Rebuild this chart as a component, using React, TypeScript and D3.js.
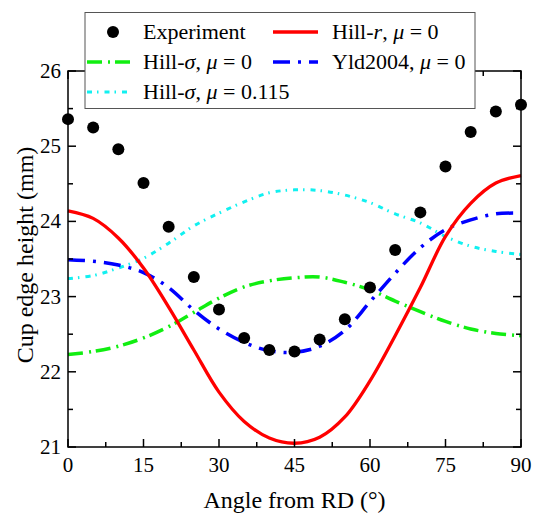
import React, { useEffect, useRef } from "react";
import * as d3 from "d3";

const angles = [0, 5, 10, 15, 20, 25, 30, 35, 40, 45, 50, 55, 60, 65, 70, 75, 80, 85, 90];
const experiment = [25.36, 25.25, 24.96, 24.51, 23.93, 23.26, 22.83, 22.45, 22.29, 22.27, 22.43, 22.7, 23.12, 23.62, 24.12, 24.73, 25.19, 25.46, 25.55];
const hillR = [24.14, 24.04, 23.78, 23.38, 22.86, 22.29, 21.73, 21.34, 21.12, 21.05, 21.13, 21.4, 21.88, 22.48, 23.12, 23.8, 24.24, 24.51, 24.61];
const hillSigma = [22.23, 22.27, 22.34, 22.45, 22.6, 22.79, 22.98, 23.13, 23.21, 23.25, 23.26, 23.19, 23.09, 22.94, 22.8, 22.67, 22.57, 22.51, 22.48];
const yld2004 = [23.49, 23.47, 23.42, 23.32, 23.12, 22.82, 22.57, 22.39, 22.28, 22.26, 22.34, 22.55, 22.93, 23.31, 23.65, 23.89, 24.02, 24.1, 24.11];
const hillSigmaMu = [23.24, 23.28, 23.38, 23.51, 23.71, 23.94, 24.11, 24.26, 24.38, 24.42, 24.41, 24.35, 24.25, 24.1, 23.98, 23.8, 23.67, 23.6, 23.56];
const xTicks = [0, 15, 30, 45, 60, 75, 90];
const yTicks = [21, 22, 23, 24, 25, 26];

const FONT = "'Liberation Serif', 'Times New Roman', serif";

export default function App() {
  const ref = useRef<SVGSVGElement>(null);

  useEffect(() => {
    const left = 68,
      right = 521,
      top = 71,
      bottom = 447;
    const svg = d3.select(ref.current);
    svg.selectAll("*").remove();

    const x = d3.scaleLinear().domain([0, 90]).range([left, right]);
    const y = d3.scaleLinear().domain([21, 26]).range([bottom, top]);

    const line = d3
      .line<number>()
      .x((_, i) => x(angles[i]))
      .y((d) => y(d))
      .curve(d3.curveCatmullRom);

    const series = [
      { values: hillSigmaMu, color: "#11f0f0", width: 3, dash: "5 5 1.5 6" },
      { values: hillSigma, color: "#11ee11", width: 3.5, dash: "15 6 2 5" },
      { values: yld2004, color: "#0000ff", width: 3.5, dash: "17 8 3 8" },
      { values: hillR, color: "#ff0000", width: 3.3, dash: null },
    ];

    series.forEach((s) => {
      svg
        .append("path")
        .datum(s.values)
        .attr("fill", "none")
        .attr("stroke", s.color)
        .attr("stroke-width", s.width)
        .attr("stroke-dasharray", s.dash)
        .attr("d", line);
    });

    svg
      .append("g")
      .selectAll("circle")
      .data(experiment)
      .join("circle")
      .attr("cx", (_, i) => x(angles[i]))
      .attr("cy", (d) => y(d))
      .attr("r", 6)
      .attr("fill", "black");

    // frame and ticks (inward on all sides)
    const axes = svg.append("g").attr("stroke", "black").attr("stroke-width", 1.5);
    axes
      .append("rect")
      .attr("x", left)
      .attr("y", top)
      .attr("width", right - left)
      .attr("height", bottom - top)
      .attr("fill", "none");

    const xMinor = d3.range(7.5, 90, 15);
    const yMinor = d3.range(21.5, 26, 1);
    [
      ...xTicks.map((v) => ({ v, len: 8 })),
      ...xMinor.map((v) => ({ v, len: 5 })),
    ].forEach(({ v, len }) => {
      axes.append("line").attr("x1", x(v)).attr("x2", x(v)).attr("y1", bottom).attr("y2", bottom - len);
      axes.append("line").attr("x1", x(v)).attr("x2", x(v)).attr("y1", top).attr("y2", top + len);
    });
    [
      ...yTicks.map((v) => ({ v, len: 8 })),
      ...yMinor.map((v) => ({ v, len: 5 })),
    ].forEach(({ v, len }) => {
      axes.append("line").attr("y1", y(v)).attr("y2", y(v)).attr("x1", left).attr("x2", left + len);
      axes.append("line").attr("y1", y(v)).attr("y2", y(v)).attr("x1", right).attr("x2", right - len);
    });

    const g = svg.append("g").style("font-family", FONT);

    g.append("g")
      .selectAll("text")
      .data(xTicks)
      .join("text")
      .attr("x", (d) => x(d))
      .attr("y", 472)
      .attr("text-anchor", "middle")
      .style("font-size", "21px")
      .text((d) => d);

    g.append("g")
      .selectAll("text")
      .data(yTicks)
      .join("text")
      .attr("x", 61)
      .attr("y", (d) => y(d) + 7)
      .attr("text-anchor", "end")
      .style("font-size", "21px")
      .text((d) => d);

    g.append("text")
      .attr("x", (left + right) / 2)
      .attr("y", 508)
      .attr("text-anchor", "middle")
      .style("font-size", "24px")
      .text("Angle from RD (°)");

    g.append("text")
      .attr("transform", `translate(33,255) rotate(-90)`)
      .attr("text-anchor", "middle")
      .style("font-size", "24px")
      .text("Cup edge height (mm)");

    // legend
    const lg = g.append("g");
    lg.append("rect")
      .attr("x", 85)
      .attr("y", 12.5)
      .attr("width", 390)
      .attr("height", 96)
      .attr("fill", "white")
      .attr("stroke", "#555")
      .attr("stroke-width", 1);

    const items = [
      { col: 0, row: 0, type: "dot", label: ["Experiment"] },
      { col: 1, row: 0, s: series[3], label: ["Hill-", "r", ", ", "μ", " = 0"] },
      { col: 0, row: 1, s: series[1], label: ["Hill-", "σ", ", ", "μ", " = 0"] },
      { col: 1, row: 1, s: series[2], label: ["Yld2004, ", "μ", " = 0"] },
      { col: 0, row: 2, s: series[0], label: ["Hill-", "σ", ", ", "μ", " = 0.115"] },
    ];
    const colX = [87, 273];
    const textX = [143, 332];
    const italics = ["r", "σ", "μ"];
    items.forEach((it: any) => {
      const yy = 32 + it.row * 30;
      if (it.type === "dot") {
        lg.append("circle").attr("cx", 113).attr("cy", yy).attr("r", 6).attr("fill", "black");
      } else {
        lg.append("line")
          .attr("x1", colX[it.col])
          .attr("x2", colX[it.col] + 45)
          .attr("y1", yy)
          .attr("y2", yy)
          .attr("stroke", it.s.color)
          .attr("stroke-width", it.s.width)
          .attr("stroke-dasharray", it.s.dash);
      }
      const t = lg
        .append("text")
        .attr("x", textX[it.col])
        .attr("y", yy + 7)
        .style("font-size", "22px");
      it.label.forEach((part: string) => {
        t.append("tspan")
          .style("font-style", italics.includes(part) ? "italic" : "normal")
          .text(part);
      });
    });
  }, []);

  return (
    <svg
      ref={ref}
      width={540}
      height={516}
      style={{ position: "absolute", left: 0, top: 0, background: "white" }}
    />
  );
}
